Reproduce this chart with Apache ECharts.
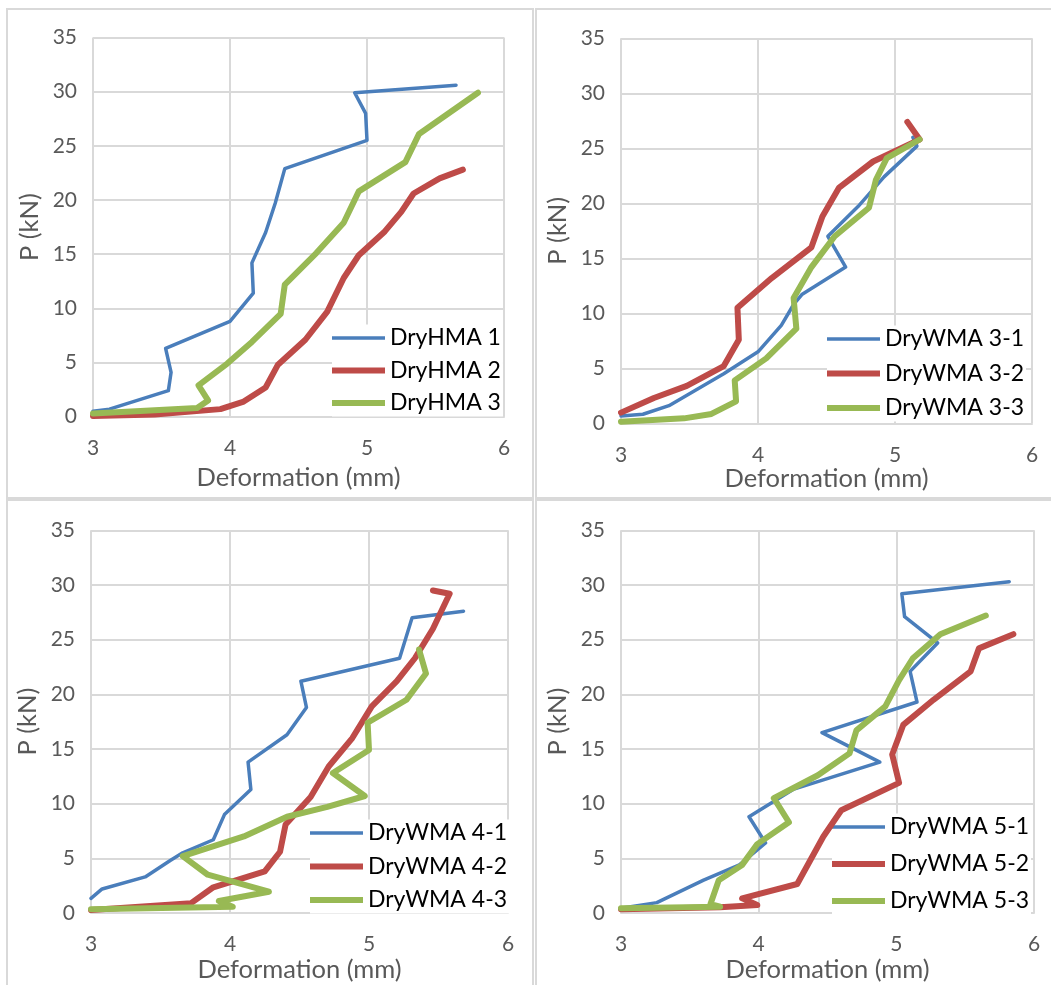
<!DOCTYPE html>
<html>
<head>
<meta charset="utf-8">
<title>P - Deformation</title>
<script src="https://cdn.jsdelivr.net/npm/echarts@6/dist/echarts.min.js"></script>
<style>
	html, body { margin: 0; padding: 0; background: #fff; }
	#main { width: 1051px; height: 985px; }
</style>
</head>
<body>
<div id="main"></div>
<script>
// 数据 [deformation(mm), P(kN)]
var hma1 = [[3.0,0.5],[3.12,0.7],[3.55,2.4],[3.57,4.1],[3.53,6.3],[4.0,8.8],[4.17,11.4],[4.16,14.2],[4.26,17.0],[4.33,19.7],[4.4,22.9],[5.0,25.5],[4.99,28.0],[4.91,29.9],[5.65,30.6]];
var hma2 = [[3.0,0.06],[3.45,0.2],[3.93,0.7],[4.1,1.4],[4.26,2.7],[4.35,4.8],[4.55,7.1],[4.71,9.7],[4.83,12.8],[4.94,14.9],[5.13,17.1],[5.25,18.9],[5.34,20.6],[5.53,22.0],[5.7,22.8]];
var hma3 = [[3.0,0.3],[3.76,0.8],[3.84,1.5],[3.77,2.9],[3.98,4.9],[4.16,6.9],[4.37,9.5],[4.4,12.2],[4.63,15.1],[4.83,17.9],[4.94,20.8],[5.28,23.5],[5.38,26.1],[5.81,29.9]];

var wma31 = [[3.0,0.67],[3.16,0.82],[3.35,1.6],[3.75,4.5],[4.0,6.5],[4.17,8.9],[4.26,10.8],[4.32,11.7],[4.64,14.2],[4.51,17.0],[4.73,19.7],[4.92,22.4],[5.16,25.2],[5.13,26.0]];
var wma32 = [[3.0,0.97],[3.24,2.3],[3.48,3.4],[3.75,5.2],[3.86,7.6],[3.85,10.5],[4.1,13.2],[4.39,16.0],[4.47,18.8],[4.59,21.4],[4.84,23.8],[5.18,25.8],[5.09,27.4]];
var wma33 = [[3.0,0.15],[3.46,0.45],[3.66,0.85],[3.84,2.0],[3.83,3.9],[4.06,5.9],[4.28,8.6],[4.26,11.4],[4.39,14.2],[4.56,17.0],[4.81,19.6],[4.86,22.1],[4.94,24.1],[5.18,25.8]];

var wma41 = [[3.0,1.34],[3.08,2.2],[3.39,3.3],[3.57,4.8],[3.66,5.5],[3.88,6.7],[3.96,9.0],[4.15,11.3],[4.13,13.8],[4.41,16.3],[4.55,18.8],[4.51,21.2],[5.22,23.3],[5.31,27.0],[5.68,27.6]];
var wma42 = [[3.0,0.27],[3.72,0.9],[3.88,2.35],[4.25,3.8],[4.36,5.6],[4.4,8.1],[4.58,10.6],[4.71,13.4],[4.88,16.0],[5.02,18.9],[5.2,21.2],[5.33,23.3],[5.46,26.0],[5.58,29.2],[5.46,29.5]];
var wma43 = [[3.0,0.34],[4.02,0.58],[3.92,1.1],[4.28,1.95],[3.84,3.5],[3.66,5.2],[4.1,7.0],[4.41,8.8],[4.7,9.7],[4.97,10.7],[4.74,12.8],[5.0,14.9],[4.99,17.4],[5.27,19.5],[5.41,21.9],[5.36,24.1]];

var wma51 = [[3.0,0.43],[3.26,0.95],[3.6,3.0],[3.86,4.4],[4.05,6.4],[3.93,8.8],[4.25,11.3],[4.88,13.8],[4.46,16.5],[5.15,19.3],[5.1,22.1],[5.3,24.7],[5.06,27.1],[5.04,29.2],[5.82,30.3]];
var wma52 = [[3.0,0.34],[3.72,0.52],[3.99,0.73],[3.88,1.34],[4.28,2.65],[4.47,7.0],[4.6,9.4],[5.02,11.9],[4.97,14.5],[5.05,17.2],[5.27,19.5],[5.54,22.1],[5.6,24.2],[5.85,25.5]];
var wma53 = [[3.0,0.43],[3.72,0.58],[3.65,0.82],[3.71,3.0],[3.88,4.4],[3.99,6.3],[4.22,8.3],[4.11,10.5],[4.43,12.6],[4.66,14.6],[4.71,16.7],[4.92,18.9],[5.02,21.3],[5.12,23.3],[5.32,25.5],[5.65,27.2]];

var xTicks = [3, 4, 5, 6];
var yTicks = [0, 35, 5]; // min, max, interval

var names = [
	['DryHMA 1', 'DryHMA 2', 'DryHMA 3'],
	['DryWMA 3-1', 'DryWMA 3-2', 'DryWMA 3-3'],
	['DryWMA 4-1', 'DryWMA 4-2', 'DryWMA 4-3'],
	['DryWMA 5-1', 'DryWMA 5-2', 'DryWMA 5-3']
];
var values = [
	[hma1, hma2, hma3],
	[wma31, wma32, wma33],
	[wma41, wma42, wma43],
	[wma51, wma52, wma53]
];

var colors = ['#4a7ebb', '#be4b48', '#98b954'];
var widths = [3.5, 6, 6];

var gridColor = '#d9d9d9';
var font = 'Lato, "Open Sans", sans-serif';

// 四个图的位置
var grids = [
	{ left: 93, top: 37.5, width: 411, height: 379.2 },
	{ left: 621, top: 38.3, width: 411, height: 385 },
	{ left: 91, top: 530.3, width: 417, height: 382.7 },
	{ left: 621, top: 530.3, width: 413, height: 382.7 }
];
var xNameGap = [48, 42, 44, 44];
var legendPos = [
	{ left: 332, top: 324.5, itemGap: 9.5 },
	{ left: 827, top: 325.5, itemGap: 11.5 },
	{ left: 310, top: 819.5, itemGap: 10.5 },
	{ left: 832, top: 813.5, itemGap: 14 }
];

var myChart = echarts.init(document.getElementById('main'));

var xAxis = [], yAxis = [], series = [], legend = [];
for (var i = 0; i < 4; i++) {
	xAxis.push({
		gridIndex: i,
		type: 'value',
		min: xTicks[0],
		max: xTicks[xTicks.length - 1],
		interval: xTicks[1] - xTicks[0],
		name: 'Deformation (mm)',
		nameLocation: 'middle',
		nameGap: xNameGap[i],
		nameTextStyle: { color: '#595959', fontSize: 25.5, fontFamily: font },
		axisLine: { show: true, lineStyle: { color: gridColor, width: 2 } },
		axisTick: { show: false },
		axisLabel: { color: '#595959', fontSize: 21, fontFamily: font, margin: 21 },
		splitLine: { show: true, lineStyle: { color: gridColor, width: 2 } }
	});
	yAxis.push({
		gridIndex: i,
		type: 'value',
		min: yTicks[0],
		max: yTicks[1],
		interval: yTicks[2],
		name: 'P (kN)',
		nameLocation: 'middle',
		nameGap: 50,
		nameTextStyle: { color: '#595959', fontSize: 25.5, fontFamily: font },
		axisLine: { show: false },
		axisTick: { show: false },
		axisLabel: { color: '#595959', fontSize: 21, fontFamily: font, margin: 16 },
		splitLine: { show: true, lineStyle: { color: gridColor, width: 2 } }
	});
	var items = [];
	for (var j = 0; j < 3; j++) {
		series.push({
			name: names[i][j],
			type: 'line',
			xAxisIndex: i,
			yAxisIndex: i,
			data: values[i][j],
			symbol: 'none',
			smooth: false,
			color: colors[j],
			lineStyle: { color: colors[j], width: widths[j], cap: 'round', join: 'round' },
			z: 3,
			animation: false
		});
		// 图例线条
		items.push({
			name: names[i][j],
			icon: 'path://M0,0H53V' + widths[j] + 'H0Z',
			itemStyle: { color: colors[j], borderWidth: 0 }
		});
	}
	legend.push({
		data: items,
		orient: 'vertical',
		left: legendPos[i].left,
		top: legendPos[i].top,
		itemGap: legendPos[i].itemGap,
		itemWidth: 53,
		itemHeight: 14,
		padding: [2, 2, 2, 0],
		backgroundColor: '#fff',
		selectedMode: false,
		z: 1,
		textStyle: { color: '#000', fontSize: 23, fontFamily: font }
	});
}

// 外框
var boxes = [[7, 9, 526, 489], [536, 9, 530, 489], [7, 500, 526, 500], [536, 500, 530, 500]];
var graphic = boxes.map(function(b) {
	return {
		type: 'rect',
		shape: { x: b[0], y: b[1], width: b[2], height: b[3] },
		style: { fill: null, stroke: gridColor, lineWidth: 2 },
		silent: true
	};
});

var option = {
	backgroundColor: '#fff',
	animation: false,
	textStyle: { fontFamily: font },
	graphic: graphic,
	grid: grids,
	xAxis: xAxis,
	yAxis: yAxis,
	legend: legend,
	series: series
};

myChart.setOption(option);

window.addEventListener('resize', function() {
	myChart.resize();
});
</script>
</body>
</html>
